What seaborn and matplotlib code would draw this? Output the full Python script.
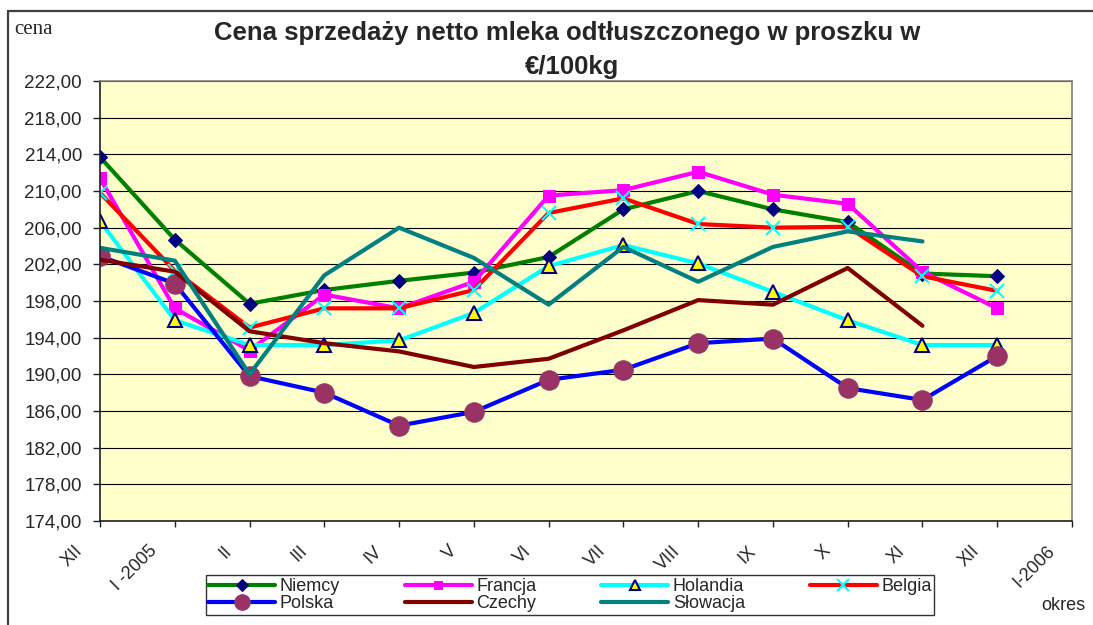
import numpy as np
import pandas as pd
import matplotlib.pyplot as plt
import matplotlib.transforms as mtransforms
from matplotlib.lines import Line2D
import seaborn as sns

sns.set_style("white")
plt.rcParams["font.family"] = ["Liberation Sans", "DejaVu Sans"]

# data
months = ["XII", "I -2005", "II", "III", "IV", "V", "VI", "VII", "VIII",
          "IX", "X", "XI", "XII", "I-2006"]

niemcy = [213.7, 204.7, 197.7, 199.2, 200.2, 201.1, 202.8, 208.0, 210.0, 208.0, 206.6, 201.0, 200.7]
francja = [211.4, 197.2, 192.6, 198.7, 197.2, 200.1, 209.5, 210.1, 212.1, 209.6, 208.6, 201.2, 197.2]
holandia = [206.7, 195.9, 193.2, 193.2, 193.7, 196.7, 201.8, 204.1, 202.1, 199.0, 195.9, 193.2, 193.2]
belgia = [209.8, 201.3, 195.1, 197.2, 197.2, 199.2, 207.6, 209.2, 206.4, 206.0, 206.1, 200.7, 199.1]
polska = [202.9, 199.9, 189.8, 188.0, 184.4, 185.9, 189.4, 190.5, 193.4, 193.9, 188.5, 187.2, 192.0]
czechy = [202.5, 201.2, 194.7, 193.4, 192.5, 190.8, 191.7, 194.8, 198.1, 197.6, 201.6, 195.3]
slowacja = [203.8, 202.4, 190.0, 200.8, 206.0, 202.7, 197.6, 203.9, 200.1, 203.9, 205.6, 204.5]

series = [
    ("Niemcy", niemcy, dict(color="#008000", marker="D", markersize=7.5,
                            markerfacecolor="#000080", markeredgecolor="#000080")),
    ("Francja", francja, dict(color="#FF00FF", marker="s", markersize=8,
                              markerfacecolor="#FF00FF", markeredgecolor="#FF00FF")),
    ("Holandia", holandia, dict(color="#00FFFF", marker="^", markersize=9.5,
                                markerfacecolor="#FFFF00", markeredgecolor="#000080",
                                markeredgewidth=1.5)),
    ("Belgia", belgia, dict(color="#FF0000", marker="x", markersize=10,
                            markeredgecolor="#00FFFF", markeredgewidth=1.5)),
    ("Polska", polska, dict(color="#0000FF", marker="o", markersize=14,
                            markerfacecolor="#993366", markeredgecolor="#993366")),
    ("Czechy", czechy, dict(color="#800000")),
    ("Słowacja", slowacja, dict(color="#008080")),
]

fig = plt.figure(figsize=(10.93, 6.25), dpi=100)
ax = fig.add_axes([100 / 1093, 1 - 521 / 625, 972 / 1093, 440 / 625])
ax.set_facecolor("#FFFFCC")

for name, vals, style in series:
    df = pd.DataFrame({"x": np.arange(len(vals)), "y": vals})
    sns.lineplot(data=df, x="x", y="y", ax=ax, label=name, linewidth=3,
                 solid_joinstyle="round", **style)

if ax.get_legend() is not None:
    ax.get_legend().remove()

ax.set_xlim(0, 13)
ax.set_ylim(174, 222)
ax.set_yticks(np.arange(174, 223, 4))
ax.set_yticklabels([f"{v:.2f}".replace(".", ",") for v in np.arange(174, 223, 4)])
ax.set_xticks(np.arange(len(months)))
ax.set_xticklabels(months)
ax.set_xlabel("")
ax.set_ylabel("")
ax.grid(axis="y", color="black", linewidth=0.8)
ax.grid(axis="x", visible=False)
ax.set_axisbelow(True)

for side in ["top", "right"]:
    ax.spines[side].set_color("#808080")
    ax.spines[side].set_linewidth(1.2)
for side in ["left", "bottom"]:
    ax.spines[side].set_color("#202020")
    ax.spines[side].set_linewidth(1.2)

ax.tick_params(axis="y", direction="out", length=5, width=1, pad=8,
               labelsize=13.5, left=True, color="#202020")
ax.tick_params(axis="x", direction="out", length=4, width=1, pad=0,
               labelsize=13, bottom=True, color="#202020")

offset = mtransforms.ScaledTranslation(-0.20, -0.22, fig.dpi_scale_trans)
for lab in ax.get_xticklabels():
    lab.set_rotation(45)
    lab.set_ha("right")
    lab.set_va("center")
    lab.set_rotation_mode("anchor")
    lab.set_transform(lab.get_transform() + offset)

# legend ordered so the 4-column layout reads row by row
handles, labels = ax.get_legend_handles_labels()
order = ["Niemcy", "Polska", "Francja", "Czechy", "Holandia", "Słowacja", "Belgia"]
hmap = dict(zip(labels, handles))
leg = fig.legend([hmap[k] for k in order], order, loc="center",
                 bbox_to_anchor=(570 / 1093, 1 - 595 / 625), ncol=4,
                 frameon=True, fancybox=False, edgecolor="black", fontsize=13,
                 handlelength=3.7, handletextpad=0.25, columnspacing=3.6,
                 labelspacing=0.0, borderpad=0.15, borderaxespad=0, markerscale=0.8)
leg.get_frame().set_linewidth(1.0)

# titles and axis captions
fig.text(567 / 1093, 1 - 33 / 625, "Cena sprzedaży netto mleka odtłuszczonego w proszku w",
         ha="center", va="center", fontsize=18.5, weight="bold")
fig.text(572 / 1093, 1 - 67 / 625, "€/100kg", ha="center", va="center",
         fontsize=18.5, weight="bold")
fig.text(14 / 1093, 1 - 30 / 625, "cena", family=["Liberation Serif", "DejaVu Serif"],
         fontsize=15, va="center", ha="left")
fig.text(1063 / 1093, 1 - 606 / 625, "okres", ha="center", va="center", fontsize=13)

# outer chart border (left and top edges visible)
fig.add_artist(Line2D([8 / 1093, 8 / 1093], [0, 1 - 11 / 625],
                      transform=fig.transFigure, color="#404040", linewidth=1.6))
fig.add_artist(Line2D([8 / 1093, 1], [1 - 11 / 625, 1 - 11 / 625],
                      transform=fig.transFigure, color="#404040", linewidth=1.6))

fig.savefig("out.png", dpi=100)
